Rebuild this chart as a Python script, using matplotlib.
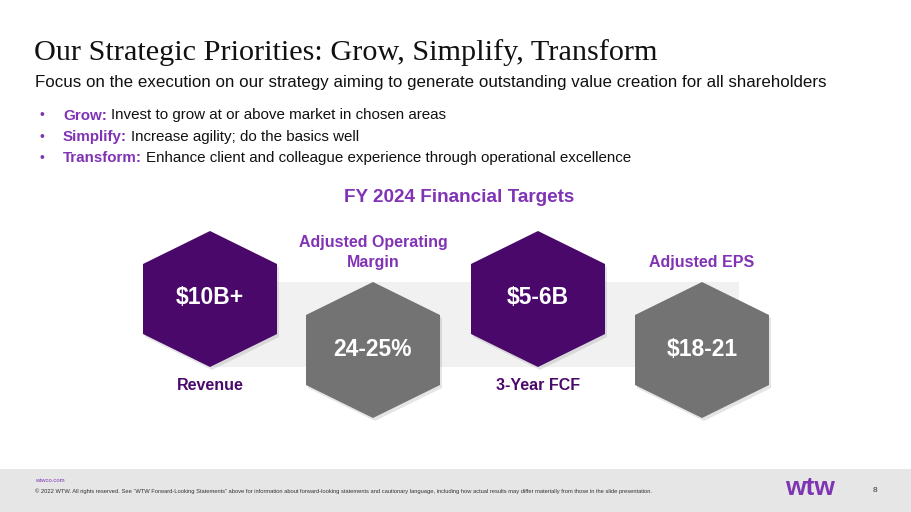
import matplotlib
matplotlib.use("Agg")
import matplotlib.pyplot as plt
from matplotlib.patches import Polygon, Rectangle

# ---- data ----
title = "Our Strategic Priorities: Grow, Simplify, Transform"
subtitle = "Focus on the execution on our strategy aiming to generate outstanding value creation for all shareholders"
bullet_heads = ["Grow:", "Simplify:", "Transform:"]
bullet_texts = ["Invest to grow at or above market in chosen areas",
                "Increase agility; do the basics well",
                "Enhance client and colleague experience through operational excellence"]
section_title = "FY 2024 Financial Targets"
metric_labels = ["Revenue", "Adjusted Operating\nMargin", "3-Year FCF", "Adjusted EPS"]
metric_values = ["$10B+", "24-25%", "$5-6B", "$18-21"]
footer_site = "wtwco.com"
footer_text = ("\u00a9 2022 WTW. All rights reserved. See \u201cWTW Forward-Looking Statements\u201d above for information "
               "about forward-looking statements and cautionary language, including how actual results may differ "
               "materially from those in the slide presentation.")
page_number = "8"

# ---- style ----
DARK_PURPLE = "#4a086b"
LIGHT_PURPLE = "#8033b5"
GRAY = "#737373"
W, H = 911, 512

fig = plt.figure(figsize=(W / 100, H / 100), dpi=100)
ax = fig.add_axes([0, 0, 1, 1])
ax.set_xlim(0, W)
ax.set_ylim(H, 0)
ax.axis("off")

sans = "Liberation Sans"

ax.text(34, 60, title, fontsize=21.8, family="Liberation Serif", color="#111111", va="baseline", ha="left")
ax.text(35, 87.5, subtitle, fontsize=12.2, family=sans, color="#111111", va="baseline", ha="left")

bullet_baselines = [119.5, 141, 162]
fig.canvas.draw()
for y, head, txt in zip(bullet_baselines, bullet_heads, bullet_texts):
    ax.text(40, y, "\u2022", fontsize=10, family=sans, color=LIGHT_PURPLE, va="baseline", ha="left")
    t = ax.text(63, y, head, fontsize=10.9, family=sans, color=LIGHT_PURPLE, weight="bold", va="baseline", ha="left")
    bb = t.get_window_extent(renderer=fig.canvas.get_renderer())
    x_end = ax.transData.inverted().transform((bb.x1, 0))[0]
    ax.text(x_end + 4, y, txt, fontsize=10.9, family=sans, color="#111111", va="baseline", ha="left")

ax.text(459, 198, section_title, fontsize=13.6, family=sans, color=LIGHT_PURPLE, weight="bold", va="center", ha="center")

# background band
ax.add_patch(Rectangle((210, 282), 529, 85, facecolor="#f1f1f1", edgecolor="none", zorder=1))

# hexagons
centers_x = [210, 373, 538, 702]
centers_y = [299, 350, 299, 350]
hex_colors = [DARK_PURPLE, GRAY, DARK_PURPLE, GRAY]
half_w, half_h, side_h = 67, 68, 35

def hexagon(cx, cy):
    return [(cx, cy - half_h), (cx + half_w, cy - side_h), (cx + half_w, cy + side_h),
            (cx, cy + half_h), (cx - half_w, cy + side_h), (cx - half_w, cy - side_h)]

for i, (cx, cy) in enumerate(zip(centers_x, centers_y)):
    ax.add_patch(Polygon([(x + 2, y + 3) for x, y in hexagon(cx, cy)], closed=True,
                         facecolor="#000000", alpha=0.10, edgecolor="none", zorder=2))
    ax.add_patch(Polygon(hexagon(cx, cy), closed=True, facecolor=hex_colors[i], edgecolor="none", zorder=3))
    ax.text(cx, cy - 1, metric_values[i], fontsize=16.5, family=sans, weight="bold", color="white",
            va="center", ha="center", zorder=4)
    if i % 2 == 0:
        ax.text(cx, 385, metric_labels[i], fontsize=11.5, family=sans, weight="bold", color=DARK_PURPLE,
                va="center", ha="center", zorder=4)
    else:
        lines = metric_labels[i].split("\n")
        for k, line in enumerate(reversed(lines)):
            ax.text(cx, 263 - 20.5 * k, line, fontsize=11.5, family=sans, weight="bold", color=LIGHT_PURPLE,
                    va="center", ha="center", zorder=4)

# footer
ax.add_patch(Rectangle((0, 469), W, H - 469, facecolor="#e6e6e6", edgecolor="none", zorder=1))
ax.text(35, 480.5, footer_site, fontsize=4.3, family=sans, color=LIGHT_PURPLE, va="center", ha="left", zorder=2)
ax.text(35, 491.5, footer_text, fontsize=4.15, family=sans, color="#333333", va="center", ha="left", zorder=2)
ax.text(810, 488, "wtw", fontsize=19, family=sans, weight="bold", color="#7f35b2", va="center", ha="center", zorder=2)
ax.text(875, 490, page_number, fontsize=6, family=sans, color="#333333", va="center", ha="center", zorder=2)

fig.savefig("out.png", dpi=100)
